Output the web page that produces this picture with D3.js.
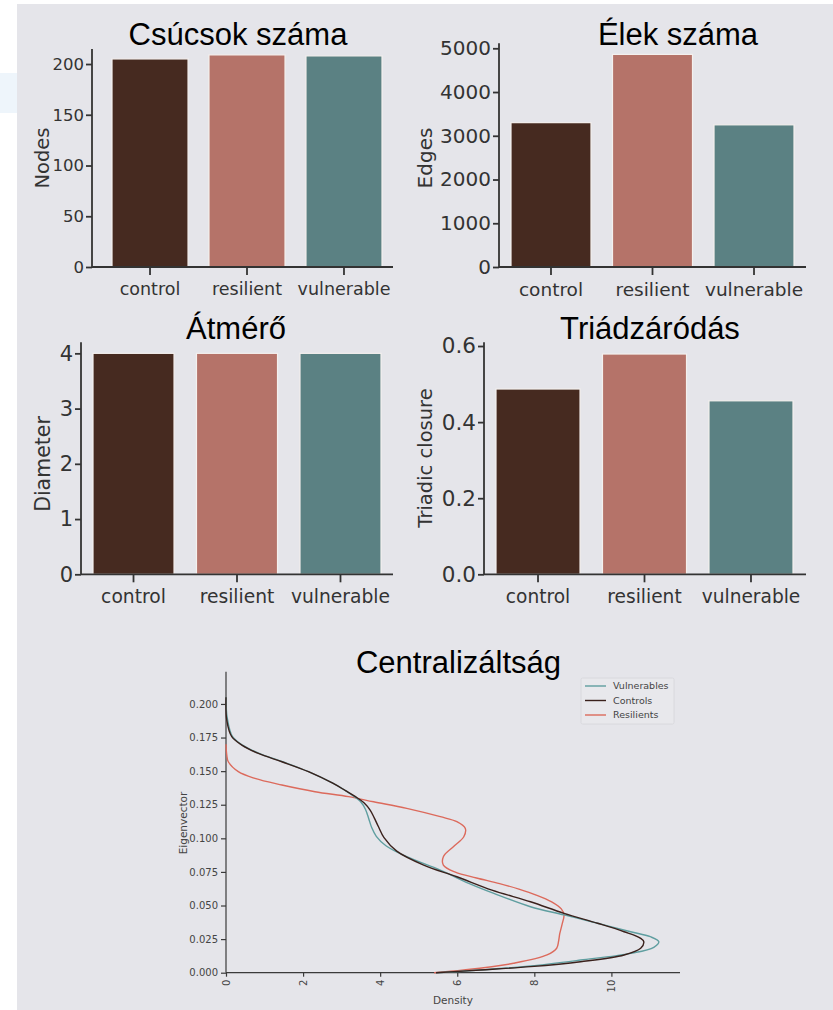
<!DOCTYPE html>
<html><head><meta charset="utf-8">
<script src="https://cdn.jsdelivr.net/npm/d3@7"></script>
<style>
html,body{margin:0;padding:0;background:#fff;}
svg{display:block;}
</style></head>
<body>
<svg id="c" width="833" height="1010"></svg>
<script>
// ---------- data ----------
const categories = ["control", "resilient", "vulnerable"];
const nodesValues = [205, 209, 208];
const edgesValues = [3300, 4860, 3250];
const diameterValues = [4, 4, 4];
const triadicValues = [0.487, 0.579, 0.456];

const nodesTicks = [0, 50, 100, 150, 200];
const edgesTicks = [0, 1000, 2000, 3000, 4000, 5000];
const diameterTicks = [0, 1, 2, 3, 4];
const triadicTicks = [0.0, 0.2, 0.4, 0.6];

const densityTicks = [0, 2, 4, 6, 8, 10];
const eigenTicks = [0, 0.025, 0.05, 0.075, 0.1, 0.125, 0.15, 0.175, 0.2];

const seriesNames = ["Vulnerables", "Controls", "Resilients"];
// [density, eigenvector]
const vulnerablesCurve = [[0,0.205],[0.03,0.19],[0.17,0.1756],[0.43,0.1694],[0.86,0.1632],[1.47,0.157],[2.14,0.1496],[2.77,0.141],[3.1,0.1355],[3.33,0.131],[3.5,0.127],[3.62,0.1215],[3.7,0.115],[3.78,0.108],[3.9,0.1015],[4.15,0.0945],[4.69,0.0863],[5.56,0.0764],[6.3,0.0665],[6.95,0.059],[7.9,0.0491],[8.77,0.043],[9.64,0.0368],[10.5,0.0305],[11.01,0.0268],[11.23,0.0231],[11.1,0.0189],[10.5,0.0144],[9.2,0.0094],[7.9,0.005],[6.6,0.002],[5.45,0]];
const controlsCurve = [[0,0.205],[0.02,0.188],[0.15,0.1756],[0.41,0.1694],[0.84,0.1632],[1.45,0.157],[2.14,0.1496],[2.77,0.141],[3.1,0.1355],[3.36,0.131],[3.58,0.1265],[3.74,0.121],[3.85,0.115],[3.95,0.109],[4.1,0.1005],[4.43,0.0905],[5.13,0.0801],[5.99,0.0714],[6.9,0.0615],[7.9,0.0528],[8.77,0.0442],[9.64,0.0368],[10.33,0.0305],[10.76,0.0256],[10.84,0.0231],[10.76,0.0182],[10.33,0.0132],[9.2,0.0082],[7.9,0.0045],[6.6,0.002],[5.45,0]];
const resilientsCurve = [[0,0.17],[0.02,0.162],[0.06,0.157],[0.32,0.1496],[0.75,0.1446],[1.45,0.1397],[2.31,0.1347],[3.18,0.131],[3.83,0.1272],[4.69,0.1223],[5.56,0.1161],[5.99,0.1124],[6.21,0.1074],[6.17,0.1012],[5.9,0.0938],[5.64,0.0863],[5.64,0.0801],[5.95,0.0748],[6.5,0.0705],[7.1,0.0663],[7.6,0.0622],[8.05,0.0578],[8.45,0.0527],[8.7,0.0475],[8.77,0.043],[8.72,0.036],[8.66,0.029],[8.63,0.0235],[8.58,0.0182],[8.33,0.0132],[7.46,0.007],[6.17,0.002],[5.4,0]];

// ---------- style ----------
const barColors = ["#462a20", "#b57369", "#5b8183"];
const lineColors = ["#5f9ea0", "#3a211c", "#dc6a5c"];
const axisColor = "#333333";
const bodyFont = "'DejaVu Sans', sans-serif";
const titleFont = "'Liberation Sans', Arial, sans-serif";

const svg = d3.select("#c");
// background (slide)
svg.append("rect").attr("x",0).attr("y",0).attr("width",833).attr("height",1010).attr("fill","#ffffff");
svg.append("rect").attr("x",0).attr("y",73).attr("width",17).attr("height",40).attr("fill","#eef5fb");
svg.append("rect").attr("x",17).attr("y",4).attr("width",816).attr("height",1006).attr("fill","#e5e5ea");

function barPanel(cfg) {
  const g = svg.append("g");
  const y = d3.scaleLinear().domain([0, cfg.yMax]).range([cfg.y0, cfg.yTop]);
  const x = d3.scaleBand().domain(categories).range([cfg.b0, cfg.b1]).paddingInner(cfg.pad).paddingOuter(0);
  // bars
  g.selectAll("rect.bar").data(cfg.values).enter().append("rect")
    .attr("x", (d,i) => x(categories[i]))
    .attr("width", x.bandwidth())
    .attr("y", d => y(d))
    .attr("height", d => y(0) - y(d))
    .attr("fill", (d,i) => barColors[i])
    .attr("stroke", "#f4f0ee").attr("stroke-width", 1.2);
  // y axis
  const ya = g.append("g").attr("transform", `translate(${cfg.yx},0)`)
    .call(d3.axisLeft(y).tickValues(cfg.ticks).tickFormat(cfg.fmt).tickSize(6).tickPadding(2));
  ya.select(".domain").attr("d", `M0,${cfg.y0}V${cfg.yTop}`);
  // x axis
  const xa = g.append("g").attr("transform", `translate(0,${cfg.y0})`)
    .call(d3.axisBottom(x).tickSize(8).tickPadding(7.5));
  xa.select(".domain").attr("d", `M${cfg.yx},0H${cfg.xEnd}`);
  [ya, xa].forEach(a => {
    a.selectAll(".domain").attr("stroke", axisColor).attr("stroke-width", 1.8);
    a.selectAll(".tick line").attr("stroke", axisColor).attr("stroke-width", 1.8);
    a.selectAll(".tick text").attr("fill", "#333").style("font-family", bodyFont);
  });
  ya.selectAll(".tick text").style("font-size", cfg.yts + "px");
  xa.selectAll(".tick text").style("font-size", cfg.xts + "px");
  // y label
  g.append("text").attr("transform", `translate(${cfg.lx},${cfg.ly}) rotate(-90)`)
    .attr("text-anchor", "middle").attr("dy", "0.35em")
    .style("font-family", bodyFont).style("font-size", cfg.ls + "px").attr("fill", "#333").text(cfg.label);
  // title
  g.append("text").attr("x", cfg.tx).attr("y", cfg.ty).attr("text-anchor", "middle")
    .style("font-family", titleFont).style("font-size", "31px").attr("fill", "#000").text(cfg.title);
}

barPanel({values: nodesValues, ticks: nodesTicks, fmt: d3.format("d"), yMax: 214.8, y0: 267, yTop: 49,
  yx: 92, xEnd: 393, b0: 112, b1: 382, pad: 0.216, label: "Nodes", lx: 42, ly: 158,
  yts: 16.5, xts: 17.5, ls: 19.5, title: "Csúcsok száma", tx: 238, ty: 45});
barPanel({values: edgesValues, ticks: edgesTicks, fmt: d3.format("d"), yMax: 5114, y0: 267, yTop: 43.3,
  yx: 499, xEnd: 806, b0: 511, b1: 794, pad: 0.212, label: "Edges", lx: 425, ly: 158,
  yts: 20, xts: 18.5, ls: 20, title: "Élek száma", tx: 678, ty: 45});
barPanel({values: diameterValues, ticks: diameterTicks, fmt: d3.format("d"), yMax: 4.2, y0: 574.3, yTop: 342.3,
  yx: 81, xEnd: 393, b0: 93, b1: 381, pad: 0.217, label: "Diameter", lx: 43, ly: 464,
  yts: 21, xts: 18.7, ls: 20.5, title: "Átmérő", tx: 236, ty: 339});
barPanel({values: triadicValues, ticks: triadicTicks, fmt: d3.format(".1f"), yMax: 0.6098, y0: 574.3, yTop: 342.3,
  yx: 484, xEnd: 806, b0: 496, b1: 793, pad: 0.211, label: "Triadic closure", lx: 425, ly: 458,
  yts: 21.5, xts: 18.6, ls: 19.5, title: "Triádzáródás", tx: 650, ty: 339});

// ---------- density panel ----------
(function(){
  const g = svg.append("g");
  const x = d3.scaleLinear().domain([0, 11.78]).range([226, 680]);
  const y = d3.scaleLinear().domain([0, 0.224]).range([972.7, 671.7]);
  const ya = g.append("g").attr("transform", "translate(226,0)")
    .call(d3.axisLeft(y).tickValues(eigenTicks).tickFormat(d3.format(".3f")).tickSize(5).tickPadding(3));
  const xa = g.append("g").attr("transform", "translate(0,972.7)")
    .call(d3.axisBottom(x).tickValues(densityTicks).tickFormat(d3.format("d")).tickSize(4).tickPadding(3));
  ya.select(".domain").attr("d", "M0,972.7V671.7");
  xa.select(".domain").attr("d", "M226,0H680");
  [ya, xa].forEach(a => {
    a.selectAll(".domain").attr("stroke", "#3a3a3a").attr("stroke-width", 1.2);
    a.selectAll(".tick line").attr("stroke", "#3a3a3a").attr("stroke-width", 1.2);
    a.selectAll(".tick text").attr("fill", "#444").style("font-family", bodyFont).style("font-size", "10px");
  });
  xa.selectAll(".tick text").attr("transform", "rotate(-90)").attr("text-anchor", "end")
    .attr("x", -7).attr("y", 0).attr("dy", "0.35em");
  g.append("text").attr("x", 453).attr("y", 1000).attr("dy", "0.35em").attr("text-anchor", "middle")
    .style("font-family", bodyFont).style("font-size", "10.5px").attr("fill", "#444").text("Density");
  g.append("text").attr("transform", "translate(183,823) rotate(-90)").attr("dy", "0.35em").attr("text-anchor", "middle")
    .style("font-family", bodyFont).style("font-size", "10.5px").attr("fill", "#444").text("Eigenvector");

  const line = d3.line().x(d => x(d[0])).y(d => y(d[1])).curve(d3.curveCatmullRom.alpha(0.5));
  const curves = [vulnerablesCurve, controlsCurve, resilientsCurve];
  // draw order: resilients, vulnerables, controls on top
  [2, 0, 1].forEach(i => {
    g.append("path").attr("d", line(curves[i])).attr("fill", "none")
      .attr("stroke", lineColors[i]).attr("stroke-width", 1.4);
  });

  // title
  g.append("text").attr("x", 458.5).attr("y", 673).attr("text-anchor", "middle")
    .style("font-family", titleFont).style("font-size", "31px").attr("fill", "#000").text("Centralizáltság");

  // legend
  const lg = g.append("g");
  lg.append("rect").attr("x", 581).attr("y", 678).attr("width", 93).attr("height", 46)
    .attr("fill", "#e8e8ec").attr("stroke", "#d6d6da").attr("stroke-width", 0.8).attr("rx", 1.5);
  seriesNames.forEach((n, i) => {
    const yy = 686 + i * 14.5;
    lg.append("line").attr("x1", 585).attr("x2", 606).attr("y1", yy).attr("y2", yy)
      .attr("stroke", lineColors[i]).attr("stroke-width", 1.4);
    lg.append("text").attr("x", 613).attr("y", yy).attr("dy", "0.35em")
      .style("font-family", bodyFont).style("font-size", "9.5px").attr("fill", "#444").text(n);
  });
})();
</script>
</body></html>
